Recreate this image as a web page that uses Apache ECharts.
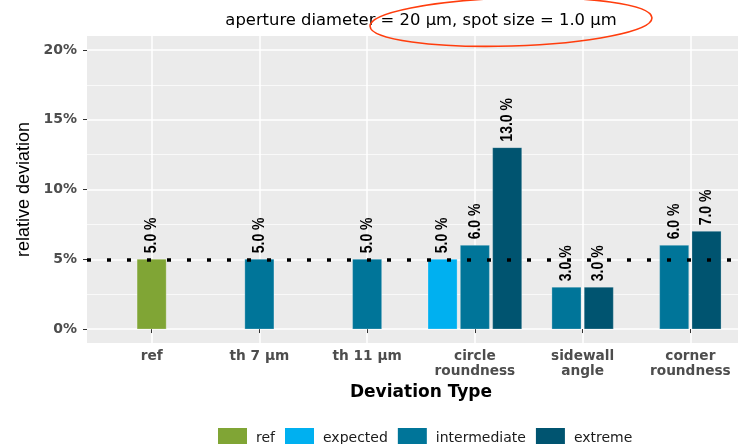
<!DOCTYPE html>
<html><head><meta charset="utf-8">
<script src="https://cdn.jsdelivr.net/npm/echarts@6/dist/echarts.min.js"></script>
<style>html,body{margin:0;padding:0;background:#fff}#c{width:738px;height:444px}</style>
</head><body><div id="c"></div>
<script>
const categories = ['ref', 'th 7 µm', 'th 11 µm', 'circle\nroundness', 'sidewall\nangle', 'corner\nroundness'];
const seriesNames = ['ref', 'expected', 'intermediate', 'extreme'];
const refValues = [5, null, null, null, null, null];
const expectedValues = [null, null, null, 5, null, null];
const intermediateValues = [null, 5, 5, 6, 3, 6];
const extremeValues = [null, null, null, 13, 3, 7];
const yTicks = [0, 5, 10, 15, 20];
const yMinorTicks = [2.5, 7.5, 12.5, 17.5];
const referenceLine = 5;
const titleText = 'aperture diameter = 20 µm, spot size = 1.0 µm';
const colors = ['#80a535', '#00b0f0', '#007599', '#005470'];

const allValues = [refValues, expectedValues, intermediateValues, extremeValues];
const catPositions = categories.map((c, i) => i + 1);
const seriesData = allValues.map(() => []);
categories.forEach((c, ci) => {
  const present = [];
  allValues.forEach((arr, si) => { if (arr[ci] != null) present.push(si); });
  present.forEach((si, k) => {
    seriesData[si].push([ci + 1, allValues[si][ci], k, present.length]);
  });
});

function renderBar(params, api) {
  const x = api.value(0), v = api.value(1), slot = api.value(2), n = api.value(3);
  const base = api.coord([x, 0]);
  const top = api.coord([x, v]);
  const unit = api.size([1, 0])[0];
  const step = unit * 0.3, w = unit * 0.27;
  const cx = base[0] + (slot - (n - 1) / 2) * step;
  return {
    type: 'group',
    children: [
      { type: 'rect', shape: { x: cx - w / 2, y: top[1], width: w, height: base[1] - top[1] },
        style: { fill: api.visual('color'), stroke: 'rgba(255,255,255,0.25)', lineWidth: 1 } },
      { type: 'text', x: cx, y: top[1] - 6, rotation: Math.PI / 2, scaleY: 1.2,
        style: { text: v.toFixed(1) + ' %', fill: '#000', fontSize: 14, fontWeight: 'bold',
                 fontFamily: '"Liberation Sans", Arial, sans-serif', align: 'left', verticalAlign: 'middle' } }
    ]
  };
}

const chart = echarts.init(document.getElementById('c'), null, { renderer: 'canvas' });
chart.setOption({
  animation: false,
  backgroundColor: '#fff',
  grid: { left: 87, right: -17, top: 36, bottom: 101, show: true, backgroundColor: '#ebebeb', borderWidth: 0,
          containLabel: false, outerBoundsMode: 'none' },
  legend: {
    data: seriesNames, left: 213, top: 423, itemWidth: 29, itemHeight: 20, itemGap: 10, icon: 'rect',
    textStyle: { fontFamily: '"DejaVu Sans", sans-serif', fontSize: 14, color: '#1a1a1a', padding: [0, 0, 0, 4] }
  },
  xAxis: {
    type: 'value', min: 0.4, max: 6.6,
    axisLine: { show: false },
    axisTick: { show: true, customValues: catPositions, length: 4, lineStyle: { color: '#333' } },
    axisLabel: { customValues: catPositions, formatter: v => categories[Math.round(v) - 1],
      margin: 6, fontFamily: '"DejaVu Sans", sans-serif', fontWeight: 'bold', fontSize: 13.7, color: '#4d4d4d', lineHeight: 15 },
    splitLine: { show: true, lineStyle: { color: '#fff', width: 1.5 } },
    name: 'Deviation Type', nameLocation: 'middle', nameGap: 38,
    nameTextStyle: { fontFamily: '"DejaVu Sans", sans-serif', fontWeight: 'bold', fontSize: 17, color: '#000' }
  },
  yAxis: [{
    type: 'value', min: -1, max: 21,
    axisLine: { show: false },
    axisTick: { show: true, customValues: yTicks, length: 4, lineStyle: { color: '#333' } },
    axisLabel: { customValues: yTicks, formatter: '{value}%', margin: 10,
      fontFamily: '"DejaVu Sans", sans-serif', fontWeight: 'bold', fontSize: 14, color: '#4d4d4d' },
    splitLine: { show: true, lineStyle: { color: '#fff', width: 1.5 } },
    name: 'relative deviation', nameLocation: 'middle', nameGap: 48,
    nameTextStyle: { fontFamily: '"Liberation Sans", Arial, sans-serif', fontSize: 18, color: '#000' }
  }, {
    type: 'value', min: -1, max: 21, position: 'left',
    axisLine: { show: false },
    axisTick: { show: false, customValues: yMinorTicks },
    axisLabel: { show: false, customValues: yMinorTicks },
    splitLine: { show: true, lineStyle: { color: '#fff', width: 0.7 } }
  }],
  graphic: [
    { type: 'text', x: 421, y: 21, z: 100,
      style: { text: titleText, fontSize: 16.4, fontFamily: '"DejaVu Sans", sans-serif', fill: '#000', align: 'center', verticalAlign: 'middle' } },
    { type: 'ellipse', x: 511, y: 22, rotation: 0.03, z: 101,
      shape: { cx: 0, cy: 0, rx: 141, ry: 24 },
      style: { fill: 'none', stroke: '#ff3d0d', lineWidth: 1.6 } }
  ],
  series: seriesNames.map((name, i) => {
    const s = {
      type: 'custom', name: name, renderItem: renderBar, data: seriesData[i],
      dimensions: ['x', 'y', 'slot', 'n'], encode: { x: 0, y: 1 },
      itemStyle: { color: colors[i] }
    };
    if (i === 2) {
      s.markLine = {
        silent: true, symbol: 'none', label: { show: false },
        lineStyle: { color: '#000', type: [4, 16], width: 3.5 },
        data: [{ yAxis: referenceLine }]
      };
    }
    return s;
  })
});
</script>
</body></html>
